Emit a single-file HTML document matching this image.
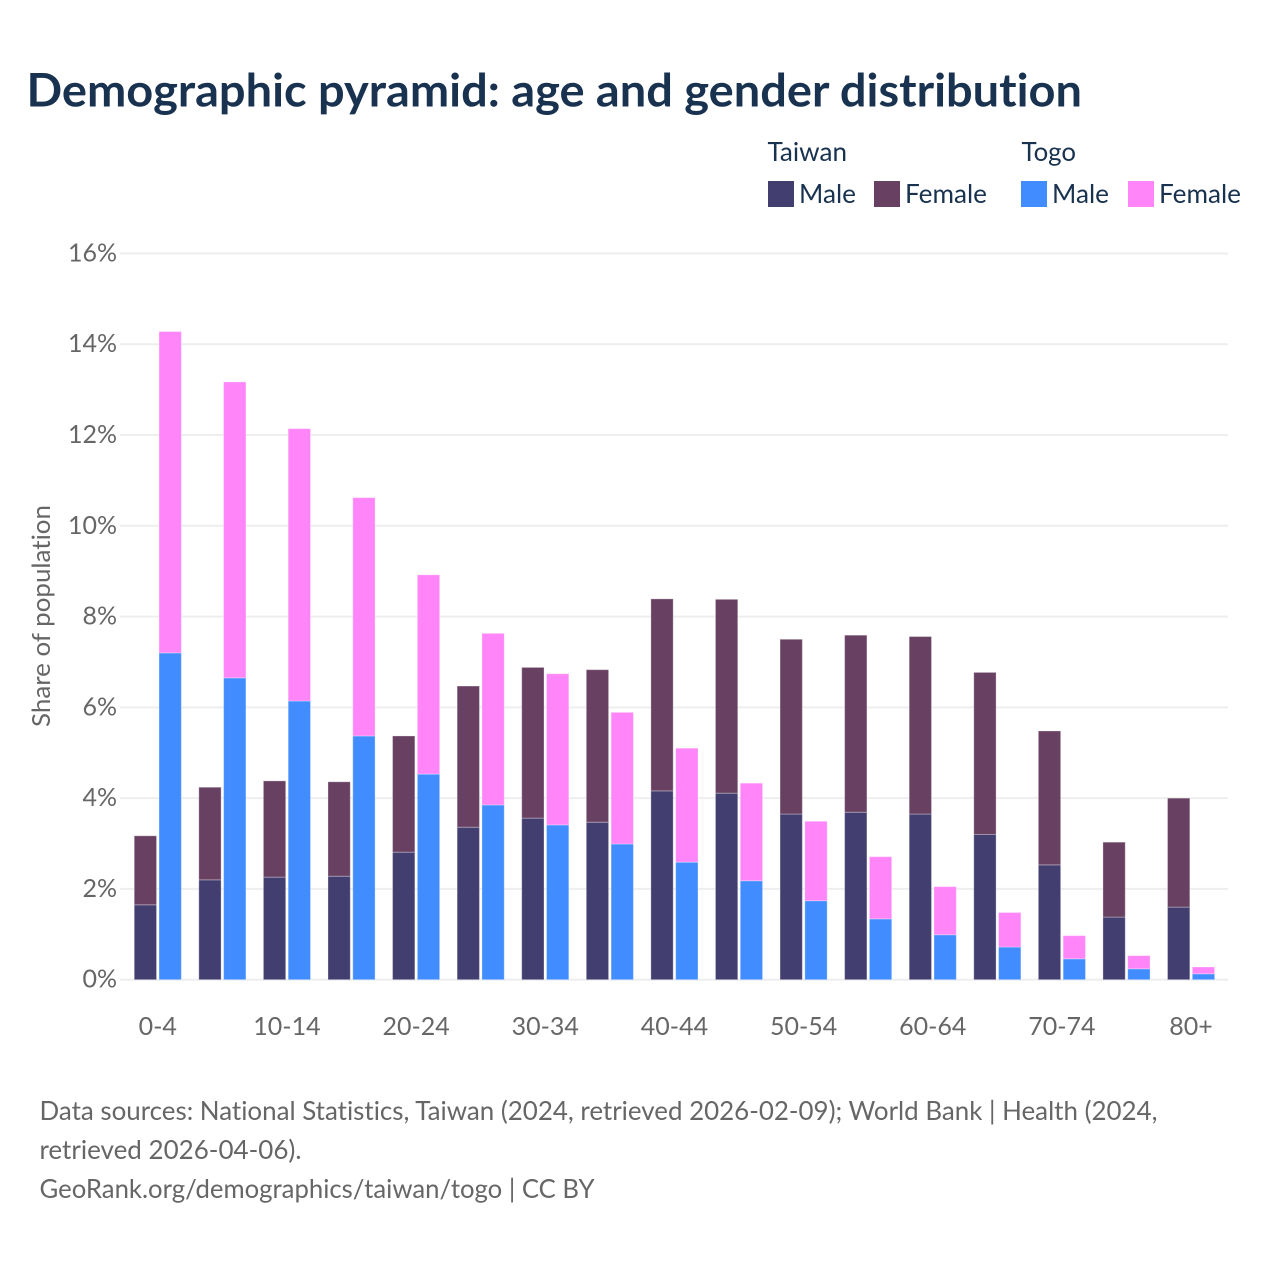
<!DOCTYPE html>
<html lang="en">
<head>
<meta charset="utf-8">
<title>Demographic pyramid: age and gender distribution</title>
<style>
html,body{margin:0;padding:0;background:#fff;}
svg{display:block;}
text{font-family:"Lato","Carlito","Liberation Sans",sans-serif;font-variant-ligatures:none;font-feature-settings:"liga" 0,"clig" 0;}
</style>
</head>
<body>
<svg id="chart" width="1280" height="1280" viewBox="0 0 1280 1280" xmlns="http://www.w3.org/2000/svg">
  <rect x="0" y="0" width="1280" height="1280" fill="#ffffff"/>
  <text x="26.5" y="106.5" font-size="46" font-weight="700" fill="#18324f" textLength="1055.5" lengthAdjust="spacingAndGlyphs">Demographic pyramid: age and gender distribution</text>

  <g>
    <text x="767.5" y="161" font-size="26" fill="#18324f" textLength="79.5" lengthAdjust="spacingAndGlyphs">Taiwan</text>
    <text x="1021.5" y="161" font-size="26" fill="#18324f" textLength="54.5" lengthAdjust="spacingAndGlyphs">Togo</text>
    <rect x="768" y="181" width="26" height="26" fill="#433e70"/>
    <text x="799" y="203" font-size="26" fill="#18324f" textLength="57" lengthAdjust="spacingAndGlyphs">Male</text>
    <rect x="874" y="181" width="26" height="26" fill="#684162"/>
    <text x="905" y="203" font-size="26" fill="#18324f" textLength="82" lengthAdjust="spacingAndGlyphs">Female</text>
    <rect x="1021" y="181" width="26" height="26" fill="#418cff"/>
    <text x="1052" y="203" font-size="26" fill="#18324f" textLength="57" lengthAdjust="spacingAndGlyphs">Male</text>
    <rect x="1128" y="181" width="26" height="26" fill="#ff85f9"/>
    <text x="1159" y="203" font-size="26" fill="#18324f" textLength="82" lengthAdjust="spacingAndGlyphs">Female</text>
  </g>

  <g id="grid"></g>
  <g id="bars"></g>
  <g id="yticks"></g>
  <g id="xticks"></g>

  <text transform="translate(50,616) rotate(-90)" text-anchor="middle" font-size="25" fill="#666666" textLength="222" lengthAdjust="spacingAndGlyphs">Share of population</text>

  <g>
    <text x="39.5" y="1120" font-size="26" fill="#666666" textLength="1118" lengthAdjust="spacingAndGlyphs">Data sources: National Statistics, Taiwan (2024, retrieved 2026-02-09); World Bank | Health (2024,</text>
    <text x="39.5" y="1159" font-size="26" fill="#666666" textLength="262" lengthAdjust="spacingAndGlyphs">retrieved 2026-04-06).</text>
    <text x="39.5" y="1198" font-size="26" fill="#666666" textLength="555" lengthAdjust="spacingAndGlyphs">GeoRank.org/demographics/taiwan/togo | CC BY</text>
  </g>
</svg>
<script>
const ageGroups = ["0-4","5-9","10-14","15-19","20-24","25-29","30-34","35-39","40-44","45-49","50-54","55-59","60-64","65-69","70-74","75-79","80+"];
const taiwanMale = [1.65,2.20,2.26,2.28,2.81,3.36,3.56,3.47,4.16,4.11,3.65,3.69,3.65,3.20,2.53,1.38,1.60];
const taiwanFemale = [1.52,2.04,2.12,2.08,2.56,3.11,3.32,3.36,4.23,4.27,3.85,3.90,3.91,3.57,2.95,1.65,2.40];
const togoMale = [7.20,6.65,6.14,5.37,4.53,3.85,3.41,2.99,2.59,2.18,1.74,1.34,0.99,0.72,0.46,0.24,0.13];
const togoFemale = [7.08,6.52,6.00,5.25,4.39,3.78,3.33,2.90,2.51,2.15,1.75,1.37,1.06,0.76,0.51,0.29,0.15];
const yTickValues = [0,2,4,6,8,10,12,14,16];

const NS = 'http://www.w3.org/2000/svg';
const plot = { left: 125.5, step: 64.58, y0: 979.7, pxPerUnit: 45.39, gridLeft: 120, gridRight: 1228, barWidth: 22.3, barGap: 2.5 };

function yScale(v) { return plot.y0 - v * plot.pxPerUnit; }
function bandCenter(i) { return plot.left + plot.step * (i + 0.5); }

function make(tag, attrs) {
  const el = document.createElementNS(NS, tag);
  for (const k in attrs) el.setAttribute(k, attrs[k]);
  return el;
}

const gridG = document.getElementById('grid');
const yG = document.getElementById('yticks');
yTickValues.forEach(function (v) {
  const y = yScale(v);
  const line = make('line', { x1: plot.gridLeft, x2: plot.gridRight, y1: y, y2: y, stroke: '#eeeeee', 'stroke-width': 2 });
  
  
  gridG.appendChild(line);
  const t = make('text', { x: 117, y: y + 8, 'text-anchor': 'end', 'font-size': 25, fill: '#666666' });
  
  
  t.textContent = v + '%';
  yG.appendChild(t);
});

const barsG = document.getElementById('bars');
function addBar(x, base, value, fill, name) {
  const top = yScale(base + value);
  const bottom = yScale(base);
  const r = make('rect', {
    x: x, y: top, width: plot.barWidth, height: Math.max(0, bottom - top),
    fill: fill, stroke: '#ffffff', 'stroke-opacity': 0.3, 'stroke-width': 1
  });
  
  
  barsG.appendChild(r);
}

ageGroups.forEach(function (label, i) {
  const c = bandCenter(i);
  const xA = c - plot.barGap / 2 - plot.barWidth;
  const xB = c + plot.barGap / 2;
  addBar(xA, 0, taiwanMale[i], '#433e70', 'bar-taiwan-male');
  addBar(xA, taiwanMale[i], taiwanFemale[i], '#684162', 'bar-taiwan-female');
  addBar(xB, 0, togoMale[i], '#418cff', 'bar-togo-male');
  addBar(xB, togoMale[i], togoFemale[i], '#ff85f9', 'bar-togo-female');
});

const xG = document.getElementById('xticks');
ageGroups.forEach(function (label, i) {
  if (i % 2 !== 0) return;
  const t = make('text', { x: bandCenter(i), y: 1035, 'text-anchor': 'middle', 'font-size': 25, fill: '#666666' });
  
  
  t.textContent = label;
  xG.appendChild(t);
});
</script>
</body>
</html>
